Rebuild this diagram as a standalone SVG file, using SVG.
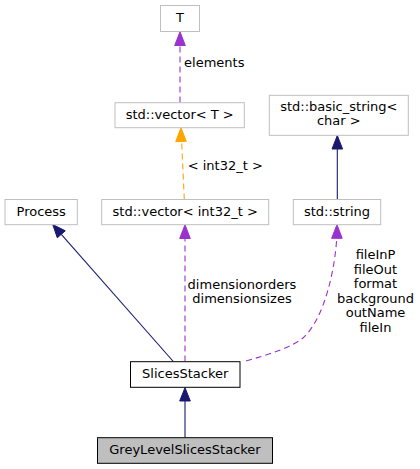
<svg xmlns="http://www.w3.org/2000/svg" width="420" height="469" viewBox="0 0 420 469">
<style>
text{font-family:"DejaVu Sans","Liberation Sans",sans-serif;font-size:13px;fill:#000;text-anchor:middle}
.n{fill:#fff;stroke:#bfbfbf;stroke-width:1}
.b{fill:#fff;stroke:#000;stroke-width:1}
.g{fill:#bfbfbf;stroke:#000;stroke-width:1}
.nv{stroke:#191970;fill:none;stroke-width:1.1}
.nvh{fill:#191970;stroke:#191970}
.pu{stroke:#9a32cd;fill:none;stroke-width:1.1;stroke-dasharray:6,4}
.puh{fill:#9a32cd;stroke:#9a32cd}
.or{stroke:#ffa500;fill:none;stroke-width:1.1;stroke-dasharray:6,4}
.orh{fill:#ffa500;stroke:#ffa500}
</style>
<rect width="420" height="469" fill="#fff"/>
<g id="connectors">
<line class="pu" x1="180" y1="102.5" x2="180" y2="45.5"/>
<polygon class="puh" points="180,31.7 185.3,45.5 174.7,45.5"/>
<text x="214.3" y="66.5">elements</text>
<line class="or" x1="184.3" y1="199.5" x2="181.6" y2="141"/>
<polygon class="orh" points="181,127.7 186.3,141.3 175.7,141.7"/>
<text x="225.3" y="170">&lt; int32_t &gt;</text>
<line class="nv" x1="337.3" y1="199.5" x2="337.3" y2="149"/>
<polygon class="nvh" points="337.3,135.5 342.6,149 332,149"/>
<line class="nv" x1="61.3" y1="234.3" x2="173.3" y2="361.5"/>
<polygon class="nvh" points="52.7,224.5 65.3,230.8 57.3,237.8"/>
<line class="pu" x1="185" y1="361.5" x2="185" y2="238.5"/>
<polygon class="puh" points="185,224.7 190.3,238.5 179.7,238.5"/>
<text x="242" y="288.7">dimensionorders</text>
<text x="242" y="302.7">dimensionsizes</text>
<path class="pu" d="M246,361 C270,354 290,348 303,338 C325,318 335,268 336.7,238.5"/>
<polygon class="puh" points="337,224.7 342.2,238.3 331.6,238.3"/>
<text x="375.5" y="259.3">fileInP</text>
<text x="375.5" y="273.8">fileOut</text>
<text x="375.5" y="288.3">format</text>
<text x="375.5" y="302.8">background</text>
<text x="375.5" y="317.3">outName</text>
<text x="375.5" y="331.8">fileIn</text>
<line class="nv" x1="185" y1="437.5" x2="185" y2="401"/>
<polygon class="nvh" points="185,387.7 190.3,401 179.7,401"/>
</g>
<g id="T"><rect class="n" x="160.5" y="5.5" width="39" height="26"/><text x="180" y="21.8">T</text></g>
<g id="vectorT"><rect class="n" x="115" y="102.7" width="129.3" height="25"/><text x="179.7" y="119">std::vector&lt; T &gt;</text></g>
<g id="basic_string"><rect class="n" x="269.3" y="95.3" width="139" height="40"/><text x="338.8" y="111">std::basic_string&lt;</text><text x="338.8" y="125.3">char &gt;</text></g>
<g id="Process"><rect class="n" x="5" y="199.5" width="72.3" height="25.2"/><text x="41.2" y="216">Process</text></g>
<g id="vectorInt32"><rect class="n" x="101.7" y="199.5" width="167" height="25.2"/><text x="185.2" y="216">std::vector&lt; int32_t &gt;</text></g>
<g id="string"><rect class="n" x="293.3" y="199.5" width="87.4" height="25.2"/><text x="337" y="216">std::string</text></g>
<g id="SlicesStacker"><rect class="b" x="130.5" y="361.7" width="109.5" height="25.6"/><text x="185.2" y="378">SlicesStacker</text></g>
<g id="GreyLevelSlicesStacker"><rect class="g" x="97.5" y="437.7" width="175" height="25.6"/><text x="185" y="454.2">GreyLevelSlicesStacker</text></g>
</svg>
